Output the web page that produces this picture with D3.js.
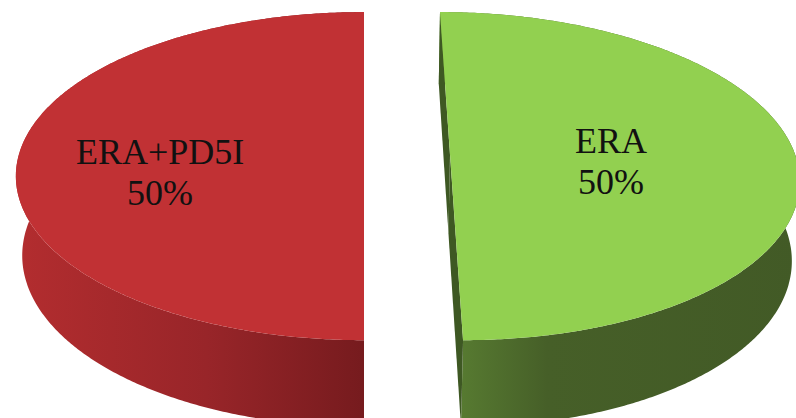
<!DOCTYPE html>
<html>
<head>
<meta charset="utf-8">
<script src="https://cdn.jsdelivr.net/npm/d3@7"></script>
<style>
  html, body { margin: 0; padding: 0; background: #ffffff; }
  svg { display: block; }
</style>
</head>
<body>
<div id="chart"></div>
<script>
// ---- data ----
const categories = ["ERA", "ERA+PD5I"];
const values = [50, 50];

// ---- styles ----
const topColors   = ["#92d050", "#c13134"];
const wallStops   = [
  [["0", "#5b8133"], ["0.3", "#465f28"], ["1", "#425a26"]],
  [["0", "#b32d2f"], ["0.55", "#982529"], ["1", "#761b1e"]]
];
const cutColors   = ["#3e5823", "#6e191c"];
// label anchor on the top face: fraction of radius along the slice's mid-angle, plus depth shift
const labelAnchor = [
  { along: 0.462, depth: -0.046 },
  { along: 0.582, depth: -0.113 }
];

// ---- 3D pie geometry & camera ----
const width = 796, height = 418;
const R = 1;              // pie radius (world units)
const thick = 0.263;      // pie thickness
const explode = 0.1246;   // outward offset of each slice
const elev = 27.85 * Math.PI / 180;  // camera elevation
const camDist = 6.711;
const focal = 2316;
const camX = -explode;    // horizontal position of the camera axis
const originX = 364, originY = 154.5;

const sinE = Math.sin(elev), cosE = Math.cos(elev);
const camPos = [camX, camDist * sinE, -camDist * cosE];

// world (X right, Y up, Z toward back) -> screen
function project(X, Y, Z) {
  const u = Y * cosE + Z * sinE;
  const w = Z * cosE - Y * sinE;
  const s = focal / (camDist + w);
  return [originX + (X - camX) * s, originY - u * s];
}

const pie = d3.pie().sort(null).value(d => d);
const arcs = pie(values);
const total = d3.sum(values);
const pct = d3.format(".0%");
const line = d3.line();

const svg = d3.select("#chart").append("svg")
  .attr("width", width).attr("height", height)
  .attr("viewBox", `0 0 ${width} ${height}`);
const defs = svg.append("defs");

arcs.forEach((a, i) => {
  const mid = (a.startAngle + a.endAngle) / 2;
  const cx = explode * Math.sin(mid), cz = explode * Math.cos(mid);
  const rim = (ang, Y) => project(cx + R * Math.sin(ang), Y, cz + R * Math.cos(ang));
  const n = Math.ceil((a.endAngle - a.startAngle) / (Math.PI / 360));
  const angs = d3.range(n + 1).map(k => a.startAngle + (a.endAngle - a.startAngle) * k / n);

  const topArc = angs.map(t => rim(t, 0));
  const botArc = angs.map(t => rim(t, -thick)).reverse();
  const wallPts = topArc.concat(botArc);

  const xs = wallPts.map(p => p[0]);
  const gid = "wall" + i;
  const grad = defs.append("linearGradient").attr("id", gid)
    .attr("gradientUnits", "userSpaceOnUse")
    .attr("x1", d3.min(xs)).attr("x2", d3.max(xs)).attr("y1", 0).attr("y2", 0);
  wallStops[i].forEach(([o, c]) => grad.append("stop").attr("offset", o).attr("stop-color", c));

  const g = svg.append("g").attr("class", "slice");

  // outer wall
  g.append("path").attr("d", line(wallPts) + "Z").attr("fill", `url(#${gid})`);

  // radial cut faces, drawn only when turned toward the camera
  [a.startAngle, a.endAngle].forEach(ang => {
    const dx = Math.sin(ang), dz = Math.cos(ang);
    let nx = dz, nz = -dx;
    if (nx * Math.sin(mid) + nz * Math.cos(mid) > 0) { nx = -nx; nz = -nz; }
    const toCam = [camPos[0] - cx, camPos[1], camPos[2] - cz];
    if (toCam[0] * nx + toCam[2] * nz <= 1e-9) return;
    const pts = [
      project(cx, 0, cz), rim(ang, 0), rim(ang, -thick), project(cx, -thick, cz)
    ];
    g.append("path").attr("d", line(pts) + "Z").attr("fill", cutColors[i]);
  });

  // top face
  const topPts = [project(cx, 0, cz)].concat(topArc);
  g.append("path").attr("d", line(topPts) + "Z").attr("fill", topColors[i]);

  // label
  const la = labelAnchor[i];
  const [lx, ly] = project(cx + la.along * R * Math.sin(mid), 0, cz + la.along * R * Math.cos(mid) + la.depth * R);
  const txt = g.append("text")
    .attr("text-anchor", "middle")
    .attr("font-family", "'Liberation Serif', 'DejaVu Serif', serif")
    .attr("font-size", 36)
    .attr("fill", "#111");
  txt.append("tspan").attr("x", lx).attr("y", ly - 9).text(categories[a.index]);
  txt.append("tspan").attr("x", lx).attr("y", ly + 32).text(pct(a.value / total));
});
</script>
</body>
</html>
